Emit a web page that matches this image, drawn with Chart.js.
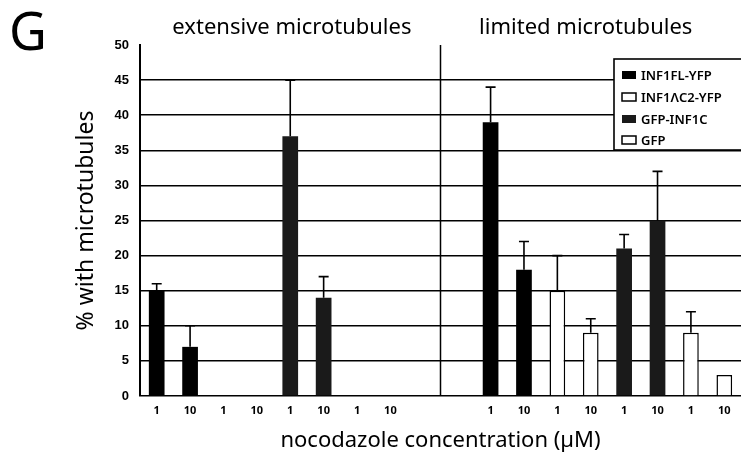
<!DOCTYPE html>
<html>
<head>
<meta charset="utf-8">
<script src="https://cdn.jsdelivr.net/npm/chart.js@4/dist/chart.umd.min.js"></script>
<style>
html,body{margin:0;padding:0;background:#fff;}
#wrap{width:741px;height:454px;position:relative;}
</style>
</head>
<body>
<div id="wrap"><canvas id="c" width="741" height="454"></canvas></div>
<script>
// ---- data ----
const concLabels = ['1','10','1','10','1','10','1','10','','','1','10','1','10','1','10','1','10'];
const seriesNames = ['INF1FL-YFP','INF1\u039BC2-YFP','GFP-INF1C','GFP'];
const seriesFill = ['#000000','#ffffff','#1a1a1a','#ffffff'];
// extensive microtubules: pairs (1 µM, 10 µM) per series
const extensiveMeans = [15, 7, 0, 0, 37, 14, 0, 0];
const extensiveErrTop = [16, 10, null, null, 45, 17, null, null];
// limited microtubules
const limitedMeans = [39, 18, 15, 9, 21, 25, 9, 3];
const limitedErrTop = [44, 22, 20, 11, 23, 32, 12, null];
const yTicks = [0,5,10,15,20,25,30,35,40,45,50];
const groupTitles = ['extensive microtubules','limited microtubules'];

// ---- build datasets ----
const N = concLabels.length;
const datasets = seriesNames.map((name, s) => {
  const data = new Array(N).fill(null);
  const err = new Array(N).fill(null);
  for (let k = 0; k < 2; k++) {
    data[2*s+k] = extensiveMeans[2*s+k];
    err[2*s+k] = extensiveErrTop[2*s+k];
    data[10+2*s+k] = limitedMeans[2*s+k];
    err[10+2*s+k] = limitedErrTop[2*s+k];
  }
  return {
    label: name,
    data: data,
    errTop: err,
    backgroundColor: seriesFill[s],
    borderColor: '#000',
    borderWidth: seriesFill[s] === '#ffffff' ? 1.5 : 0,
    categoryPercentage: 1,
    barPercentage: 0.47,
    skipNull: true
  };
});

const FONT = "'Noto Sans', 'Open Sans', sans-serif";

const deco = {
  id: 'deco',
  beforeDraw(chart) {
    const ctx = chart.ctx;
    ctx.save();
    ctx.fillStyle = '#fff';
    ctx.fillRect(0, 0, chart.width, chart.height);
    ctx.restore();
  },
  afterDatasetsDraw(chart) {
    const ctx = chart.ctx;
    const x = chart.scales.x, y = chart.scales.y;
    const area = chart.chartArea;
    ctx.save();
    // error bars
    ctx.strokeStyle = '#000';
    ctx.lineWidth = 1.6;
    chart.data.datasets.forEach((ds, di) => {
      const meta = chart.getDatasetMeta(di);
      meta.data.forEach((el, i) => {
        const e = ds.errTop[i];
        if (e === null || e === undefined || ds.data[i] === null) return;
        const yTop = y.getPixelForValue(e);
        const yBar = y.getPixelForValue(ds.data[i]);
        ctx.beginPath();
        ctx.moveTo(el.x, yBar);
        ctx.lineTo(el.x, yTop);
        ctx.moveTo(el.x - 5, yTop);
        ctx.lineTo(el.x + 5, yTop);
        ctx.stroke();
      });
    });
    // separator line between groups
    const sx = (x.getPixelForValue(8) + x.getPixelForValue(9)) / 2;
    ctx.lineWidth = 1.5;
    ctx.beginPath();
    ctx.moveTo(sx, area.top);
    ctx.lineTo(sx, area.bottom);
    ctx.stroke();

    // group titles
    ctx.fillStyle = '#000';
    ctx.font = "22px " + FONT;
    ctx.textAlign = 'center';
    ctx.textBaseline = 'alphabetic';
    ctx.fillText(groupTitles[0], x.getPixelForValue(4.05), 34);
    ctx.fillText(groupTitles[1], x.getPixelForValue(12.85), 34);

    // panel letter
    ctx.font = "52px " + FONT;
    ctx.textAlign = 'left';
    ctx.fillText('G', 9, 50);

    // legend box
    const lx = 614, ly = 59, lw = 140, lh = 91;
    ctx.fillStyle = '#fff';
    ctx.fillRect(lx, ly, lw, lh);
    ctx.lineWidth = 1.6;
    ctx.strokeStyle = '#000';
    ctx.strokeRect(lx, ly, lw, lh);
    ctx.font = "600 13px " + FONT;
    ctx.textBaseline = 'middle';
    const rows = [75, 97, 119, 140];
    seriesNames.forEach((name, s) => {
      const ry = rows[s];
      ctx.fillStyle = seriesFill[s];
      ctx.fillRect(622, ry - 4, 14, 8);
      if (seriesFill[s] === '#ffffff') {
        ctx.lineWidth = 1.5;
        ctx.strokeRect(622, ry - 4, 14, 8);
      }
      ctx.fillStyle = '#000';
      ctx.fillText(name, 641, ry + 1);
    });
    ctx.restore();
  }
};

new Chart(document.getElementById('c'), {
  type: 'bar',
  data: { labels: concLabels, datasets: datasets },
  options: {
    responsive: false,
    animation: false,
    layout: { padding: { top: 45, right: 0, left: 0, bottom: 0 } },
    plugins: { legend: { display: false }, tooltip: { enabled: false } },
    scales: {
      x: {
        grid: { display: false, drawTicks: false },
        border: { display: false },
        ticks: { color: '#000', font: { family: FONT, size: 11, weight: 'bold' }, padding: 8, maxRotation: 0, autoSkip: false },
        title: { display: true, text: 'nocodazole concentration (\u00B5M)', color: '#000', font: { family: FONT, size: 22 }, padding: { top: 2, bottom: 0 } },
        afterFit(scale) { scale.height = 58; }
      },
      y: {
        min: 0, max: 50,
        afterBuildTicks(scale) { scale.ticks = yTicks.map(v => ({ value: v })); },
        grid: {
          color: ctx => (ctx.tick && ctx.tick.value === 50) ? 'rgba(0,0,0,0)' : '#000',
          lineWidth: 1.5,
          drawTicks: false
        },
        border: { display: true, color: '#000', width: 2 },
        ticks: { color: '#000', font: { family: "'Liberation Sans', Arial, sans-serif", size: 13, weight: 'bold' }, padding: 11 },
        title: { display: true, text: '% with microtubules', color: '#000', font: { family: FONT, size: 23 }, padding: { top: 73, bottom: 0 } },
        afterFit(scale) { scale.width = 140; }
      }
    }
  },
  plugins: [deco]
});
</script>
</body>
</html>
